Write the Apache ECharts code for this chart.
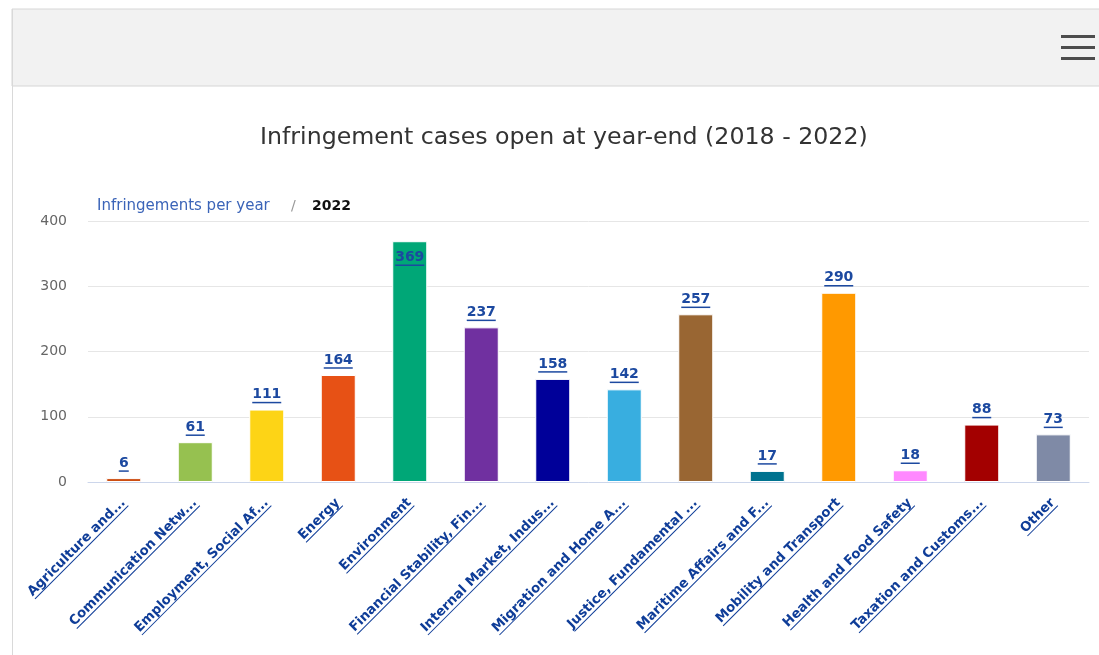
<!DOCTYPE html>
<html>
<head>
<meta charset="utf-8">
<title>Infringement cases open at year-end</title>
<script src="https://cdn.jsdelivr.net/npm/echarts@6/dist/echarts.min.js"></script>
<style>
  html, body { margin: 0; padding: 0; background: #ffffff; }
  #chart { width: 1099px; height: 655px; }
</style>
</head>
<body>
<div id="chart"></div>
<script>
// categories as shown (already truncated on the page)
const categories = [
  'Agriculture and...',
  'Communication Netw...',
  'Employment, Social Af...',
  'Energy',
  'Environment',
  'Financial Stability, Fin...',
  'Internal Market, Indus...',
  'Migration and Home A...',
  'Justice, Fundamental ...',
  'Maritime Affairs and F...',
  'Mobility and Transport',
  'Health and Food Safety',
  'Taxation and Customs...',
  'Other'
]
const cases2022 = [6, 61, 111, 164, 369, 237, 158, 142, 257, 17, 290, 18, 88, 73]
const barColors = [
  '#cc4e12', '#96c150', '#fdd416', '#e75115', '#00a777', '#7030a0', '#000099',
  '#38aee0', '#996633', '#00738f', '#ff9900', '#ff88ff', '#a30000', '#7f8aa6'
]
const yTicks = [0, 100, 200, 300, 400]

const LINK_BLUE = '#0f3d98'
const VALUE_BLUE = '#1c49a0'
const FONT = '"DejaVu Sans", Verdana, sans-serif'

// measure text so the fake underlines match the label width
const measureCtx = document.createElement('canvas').getContext('2d')
function textWidth(str, font) {
  measureCtx.font = font
  return Math.round(measureCtx.measureText(str).width)
}

const X_LABEL_SIZE = 13.3
const X_LABEL_FONT = 'bold ' + X_LABEL_SIZE + 'px "DejaVu Sans"'
const VALUE_FONT = 'bold 14px "DejaVu Sans"'

const xRich = {
  t: { fontFamily: FONT, fontWeight: 'bold', fontSize: X_LABEL_SIZE, color: LINK_BLUE, lineHeight: 13 }
}
categories.forEach((c, i) => {
  xRich['u' + i] = { width: textWidth(c, X_LABEL_FONT), height: 1, lineHeight: 1, backgroundColor: LINK_BLUE }
})

const valueRich = {
  v: { fontFamily: FONT, fontWeight: 'bold', fontSize: 14, color: VALUE_BLUE, lineHeight: 14 }
}
cases2022.forEach((v, i) => {
  valueRich['u' + i] = { width: textWidth(String(v), VALUE_FONT), height: 1.5, lineHeight: 2, backgroundColor: VALUE_BLUE }
})

const seriesData = cases2022.map((v, i) => {
  const item = { value: v, itemStyle: { color: barColors[i] } }
  // the tallest bar has its label tucked inside the top
  if (v === Math.max(...cases2022)) {
    item.label = { position: 'insideTop', distance: 9 }
  }
  return item
})

const chart = echarts.init(document.getElementById('chart'), null, { renderer: 'canvas' })

chart.setOption({
  animation: false,
  backgroundColor: '#ffffff',
  textStyle: { fontFamily: FONT },
  title: {
    text: 'Infringement cases open at year-end (2018 - 2022)',
    left: 260,
    top: 126,
    padding: 0,
    textStyle: { fontFamily: FONT, fontSize: 23.7, fontWeight: 'normal', color: '#333333' }
  },
  graphic: [
    /* card frame + header band */
    { type: 'rect', shape: { x: 12, y: 9, width: 1100, height: 77 },
      style: { fill: '#f2f2f2', stroke: '#d6d6d6', lineWidth: 1 }, silent: true },
    { type: 'line', shape: { x1: 12.5, y1: 9, x2: 12.5, y2: 655 },
      style: { stroke: '#d9d9d9', lineWidth: 1 }, silent: true },
    /* hamburger icon */
    { type: 'rect', shape: { x: 1061, y: 35, width: 34, height: 3 }, style: { fill: '#4d4d4d' } },
    { type: 'rect', shape: { x: 1061, y: 46, width: 34, height: 3 }, style: { fill: '#4d4d4d' } },
    { type: 'rect', shape: { x: 1061, y: 57, width: 34, height: 3 }, style: { fill: '#4d4d4d' } },
    /* breadcrumb */
    { type: 'text', left: 97, top: 199,
      style: { text: 'Infringements per year', font: '15px ' + FONT, fill: '#3b64b8' } },
    { type: 'text', left: 291, top: 199,
      style: { text: '/', font: '14px ' + FONT, fill: '#999999' } },
    { type: 'text', left: 312, top: 199,
      style: { text: '2022', font: 'bold 14px ' + FONT, fill: '#111111' } }
  ],
  grid: { left: 88, right: 10, top: 221, bottom: 173, containLabel: false },
  xAxis: {
    type: 'category',
    data: categories,
    axisLine: { lineStyle: { color: '#ccd6eb', width: 1 } },
    axisTick: { show: false },
    axisLabel: {
      interval: 0,
      rotate: 45,
      margin: 19,
      formatter: (val, idx) => '{t|' + val + '}\n{u' + idx + '|}',
      rich: xRich
    }
  },
  yAxis: {
    type: 'value',
    min: yTicks[0],
    max: yTicks[yTicks.length - 1],
    interval: 100,
    axisLine: { show: false },
    axisTick: { show: false },
    axisLabel: { color: '#666666', fontSize: 14, fontFamily: FONT, margin: 21 },
    splitLine: { lineStyle: { color: '#e6e6e6', width: 1 } }
  },
  series: [{
    type: 'bar',
    data: seriesData,
    barWidth: 35,
    itemStyle: { borderColor: '#ffffff', borderWidth: 1 },
    label: {
      show: true,
      position: 'top',
      distance: 6,
      formatter: (p) => '{v|' + p.value + '}\n{u' + p.dataIndex + '|}',
      rich: valueRich
    }
  }]
})
</script>
</body>
</html>
